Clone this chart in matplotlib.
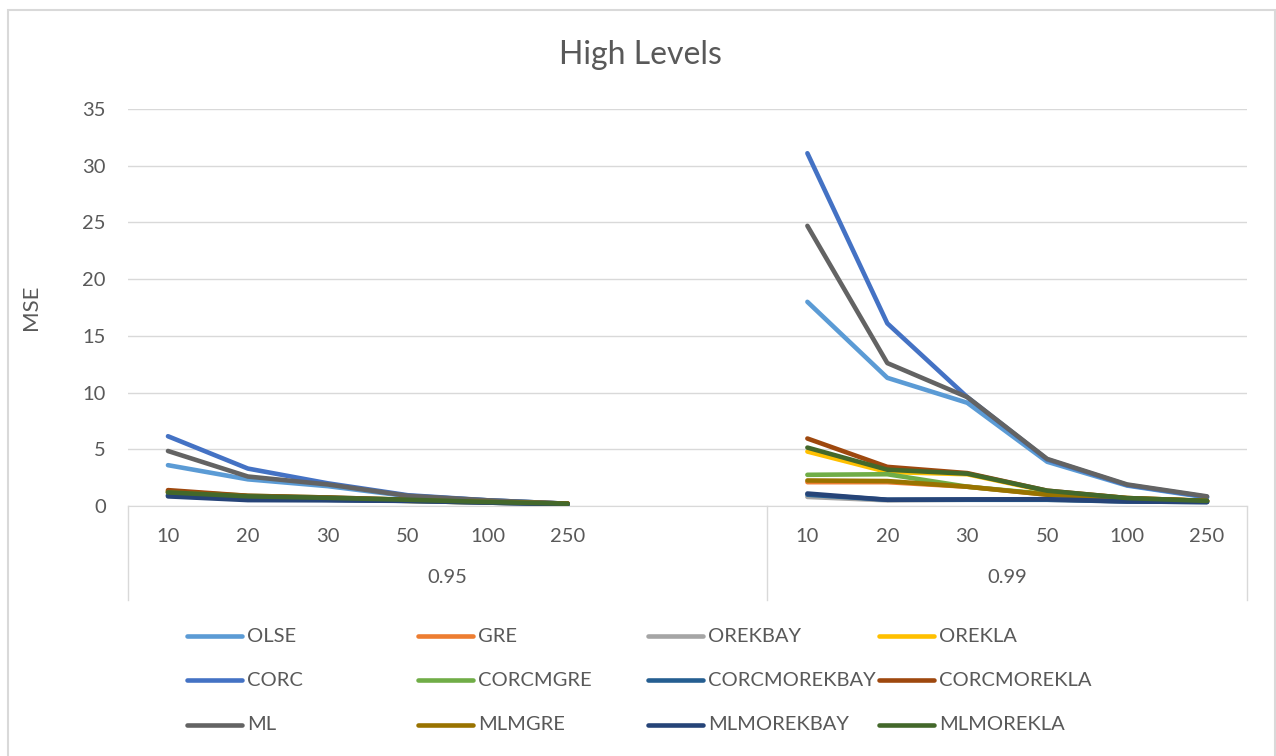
import numpy as np
import matplotlib
matplotlib.use('Agg')
import matplotlib.pyplot as plt
from matplotlib.lines import Line2D
from matplotlib.patches import Rectangle
from matplotlib.transforms import blended_transform_factory

plt.rcParams['font.family'] = ['Lato', 'DejaVu Sans']

# Sample sizes and the two levels
sizes = ['10', '20', '30', '50', '100', '250']
levels = ['0.95', '0.99']

series_names = ['OLSE', 'GRE', 'OREKBAY', 'OREKLA',
                'CORC', 'CORCMGRE', 'CORCMOREKBAY', 'CORCMOREKLA',
                'ML', 'MLMGRE', 'MLMOREKBAY', 'MLMOREKLA']
colors = ['#5B9BD5', '#ED7D31', '#A5A5A5', '#FFC000',
          '#4472C4', '#70AD47', '#255E91', '#9E480E',
          '#636363', '#997300', '#264478', '#43682B']

# MSE at level 0.95
mse_095 = {
    'OLSE':         [3.6, 2.35, 1.75, 0.87, 0.5, 0.2],
    'GRE':          [1.2, 0.85, 0.7, 0.5, 0.35, 0.22],
    'OREKBAY':      [0.9, 0.6, 0.55, 0.45, 0.3, 0.15],
    'OREKLA':       [1.3, 0.85, 0.65, 0.45, 0.3, 0.2],
    'CORC':         [6.15, 3.3, 2.0, 0.95, 0.5, 0.2],
    'CORCMGRE':     [1.3, 0.9, 0.75, 0.55, 0.35, 0.2],
    'CORCMOREKBAY': [0.95, 0.6, 0.55, 0.45, 0.3, 0.15],
    'CORCMOREKLA':  [1.4, 0.9, 0.75, 0.55, 0.35, 0.22],
    'ML':           [4.85, 2.6, 1.9, 0.9, 0.5, 0.2],
    'MLMGRE':       [1.2, 0.85, 0.7, 0.5, 0.35, 0.22],
    'MLMOREKBAY':   [0.85, 0.52, 0.5, 0.45, 0.3, 0.15],
    'MLMOREKLA':    [1.2, 0.85, 0.72, 0.55, 0.35, 0.2],
}

# MSE at level 0.99
mse_099 = {
    'OLSE':         [18.0, 11.3, 9.1, 3.9, 1.8, 0.75],
    'GRE':          [2.1, 2.1, 1.7, 1.0, 0.65, 0.45],
    'OREKBAY':      [0.8, 0.5, 0.55, 0.55, 0.4, 0.35],
    'OREKLA':       [4.8, 3.0, 2.8, 1.3, 0.7, 0.45],
    'CORC':         [31.1, 16.1, 9.6, 4.1, 1.85, 0.8],
    'CORCMGRE':     [2.75, 2.8, 1.7, 1.05, 0.65, 0.45],
    'CORCMOREKBAY': [1.0, 0.55, 0.55, 0.55, 0.4, 0.35],
    'CORCMOREKLA':  [5.95, 3.45, 2.9, 1.35, 0.7, 0.45],
    'ML':           [24.7, 12.6, 9.6, 4.15, 1.9, 0.85],
    'MLMGRE':       [2.25, 2.2, 1.7, 1.0, 0.65, 0.45],
    'MLMOREKBAY':   [1.1, 0.55, 0.58, 0.6, 0.4, 0.35],
    'MLMOREKLA':    [5.15, 3.2, 2.85, 1.35, 0.7, 0.45],
}

text_c = '#595959'
grid_c = '#D9D9D9'

fig = plt.figure(figsize=(12.76, 7.56), dpi=100)
ax = fig.add_axes([128 / 1276, 1 - 506 / 756, (1247 - 128) / 1276, (506 - 109) / 756])

# category slots: 0.95 has 8 slots (last two empty), 0.99 has 6
x_095 = np.arange(len(sizes))
x_099 = np.arange(len(sizes)) + 8

for name, c in zip(series_names, colors):
    ax.plot(x_095, mse_095[name], color=c, lw=3.3, solid_capstyle='round',
            solid_joinstyle='round', zorder=3)
    ax.plot(x_099, mse_099[name], color=c, lw=3.3, solid_capstyle='round',
            solid_joinstyle='round', zorder=3)

ax.set_xlim(-0.5, 13.5)
ax.set_ylim(0, 35)
ax.set_yticks(np.arange(0, 36, 5))
ax.yaxis.grid(True, color=grid_c, lw=1)
ax.set_axisbelow(True)
for s in ['top', 'right', 'left']:
    ax.spines[s].set_visible(False)
ax.spines['bottom'].set_color(grid_c)
ax.tick_params(axis='y', length=0, pad=16, labelsize=14.5, labelcolor=text_c)
ax.tick_params(axis='x', length=0, pad=16, labelsize=14.5, labelcolor=text_c)
ax.set_xticks(np.concatenate([x_095, x_099]))
ax.set_xticklabels(sizes + sizes)
ax.set_ylabel('MSE', fontsize=16, color=text_c, labelpad=30)

# second category level with separators
tr = blended_transform_factory(ax.transData, ax.transAxes)
for xs in [-0.5, 7.5, 13.5]:
    ax.add_line(Line2D([xs, xs], [0, -0.237], transform=tr, color=grid_c,
                       lw=1, clip_on=False))
ax.text(3.5, -0.181, levels[0], transform=tr, ha='center', va='center',
        fontsize=14.5, color=text_c)
ax.text(10.5, -0.181, levels[1], transform=tr, ha='center', va='center',
        fontsize=14.5, color=text_c)

fig.text(0.502, 1 - 55 / 756, 'High Levels', ha='center', va='center',
         fontsize=23, color=text_c)

# legend, four equal-width columns
col_x = [187, 418, 648, 879]
row_y = [636, 680, 725]
for i, (name, c) in enumerate(zip(series_names, colors)):
    x0 = col_x[i % 4]
    y0 = 1 - row_y[i // 4] / 756
    fig.add_artist(Line2D([x0 / 1276, (x0 + 55) / 1276], [y0, y0], color=c,
                          lw=3.3, solid_capstyle='round'))
    fig.text((x0 + 60) / 1276, y0, name, ha='left', va='center',
             fontsize=14.5, color=text_c)

fig.add_artist(Rectangle((8 / 1276, -0.02), (1275 - 8) / 1276, 1.02 - 10 / 756,
                         transform=fig.transFigure, fill=False,
                         edgecolor=grid_c, lw=1.5))

fig.savefig('out.png', dpi=100, facecolor='white')
